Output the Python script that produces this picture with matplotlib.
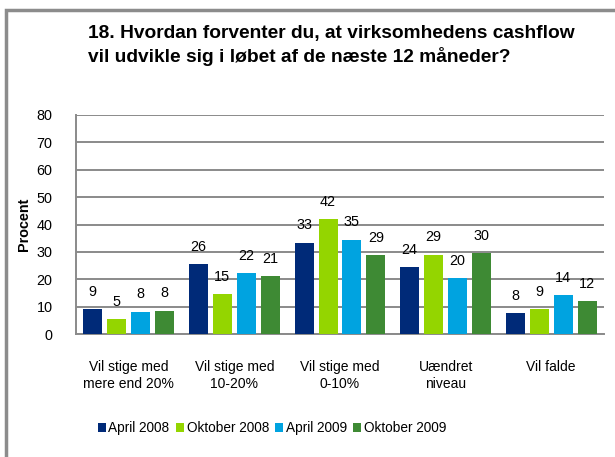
import numpy as np
import matplotlib
matplotlib.use('Agg')
import matplotlib.pyplot as plt
from matplotlib.patches import Rectangle

plt.rcParams['font.family'] = ['Liberation Sans', 'DejaVu Sans']

# =============================================================================
# Data
# =============================================================================
categories = ['Vil stige med\nmere end 20%', 'Vil stige med\n10-20%',
              'Vil stige med\n0-10%', 'Uændret\nniveau', 'Vil falde']
series = ['April 2008', 'Oktober 2008', 'April 2009', 'Oktober 2009']
apr08 = [9.1, 25.5, 33.3, 24.3, 7.7]
okt08 = [5.5, 14.5, 42.0, 28.9, 9.1]
apr09 = [8.1, 22.3, 34.5, 20.3, 14.2]
okt09 = [8.5, 21.2, 28.8, 29.6, 11.9]
labels_apr08 = [9, 26, 33, 24, 8]
labels_okt08 = [5, 15, 42, 29, 9]
labels_apr09 = [8, 22, 35, 20, 14]
labels_okt09 = [8, 21, 29, 30, 12]

colors = ['#002A78', '#94D500', '#00A3E0', '#3E8A34']

# =============================================================================
# Plot
# =============================================================================
fig = plt.figure(figsize=(6.15, 4.57), dpi=100)
ax = fig.add_axes([76/615, 1-334/457, (604-76)/615, (334-115)/457])

x = np.arange(len(categories))
step = 0.227
width = 0.18
data = [apr08, okt08, apr09, okt09]
labs = [labels_apr08, labels_okt08, labels_apr09, labels_okt09]
for i, (vals, lab) in enumerate(zip(data, labs)):
    pos = x + (i - 1.5) * step
    ax.bar(pos, vals, width, color=colors[i], label=series[i], zorder=3)
    for p, v, l in zip(pos, vals, lab):
        ax.text(p, v + 3.8, str(l), ha='center', va='bottom', fontsize=10.4)

ax.set_xlim(-0.5, len(categories) - 0.5)
ax.set_ylim(0, 80)
ax.set_yticks(range(0, 81, 10))
ax.yaxis.grid(True, color='#8a8a8a', linewidth=1.4, zorder=0)
ax.set_xticks(x)
ax.set_xticklabels(categories, fontsize=10, linespacing=1.2)
ax.tick_params(axis='y', length=0, labelsize=10.4, pad=17)
ax.tick_params(axis='x', length=0, pad=19)
for s in ['top', 'right']:
    ax.spines[s].set_visible(False)
ax.spines['left'].set_color('#8a8a8a')
ax.spines['left'].set_linewidth(1.4)
ax.spines['bottom'].set_color('#8a8a8a')
ax.spines['bottom'].set_linewidth(1.4)
ax.set_ylabel('Procent', fontsize=10.4, fontweight='bold', labelpad=4)

fig.text(88/615, 1-25/457,
         '18. Hvordan forventer du, at virksomhedens cashflow\n'
         'vil udvikle sig i løbet af de næste 12 måneder?',
         ha='left', va='top', fontsize=13.8, fontweight='bold', linespacing=1.3)

fig.legend(loc='center', bbox_to_anchor=(272/615, 1-428/457), ncol=4,
           frameon=False, fontsize=9.8, handlelength=0.6, handleheight=0.6,
           handletextpad=0.2, columnspacing=0.45)

# outer chart frame
fig.patches.append(Rectangle((6/615, -0.1), 1.2, 1 - 10/457 + 0.1,
                             transform=fig.transFigure, fill=False,
                             edgecolor='#8c8c8c', linewidth=2.5))

plt.savefig('out.png', dpi=100)
